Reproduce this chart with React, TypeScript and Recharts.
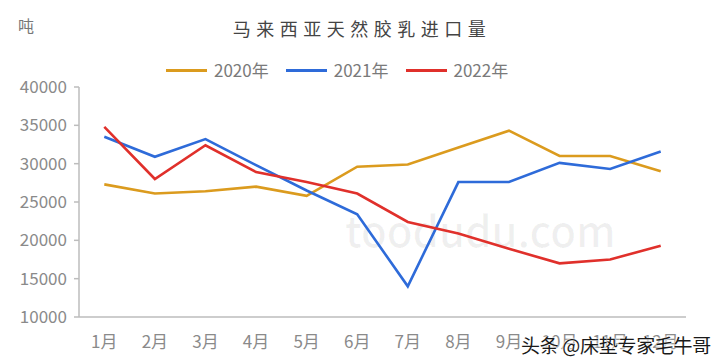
import React from 'react';
import { LineChart, Line, XAxis, YAxis, Legend } from 'recharts';

const months = ['1月', '2月', '3月', '4月', '5月', '6月', '7月', '8月', '9月', '10月', '11月', '12月'];
const s2020 = [27300, 26100, 26400, 27000, 25800, 29600, 29900, 32100, 34300, 31000, 31000, 29000];
const s2021 = [33500, 30900, 33200, 29800, 26500, 23400, 14000, 27600, 27600, 30100, 29300, 31600];
const s2022 = [34800, 28000, 32400, 28900, 27600, 26100, 22400, 20900, 18900, 17000, 17500, 19300];
const yTicks = [10000, 15000, 20000, 25000, 30000, 35000, 40000];
const seriesNames = ['2020年', '2021年', '2022年'];
const colors = ['#DB9B1E', '#2E6BD9', '#E0302B'];

const data = months.map((m, i) => ({ m, x: i + 0.5, a: s2020[i], b: s2021[i], c: s2022[i] }));
const boundaryTicks = months.map((_, i) => i).concat([months.length]);
const centerTicks = months.map((_, i) => i + 0.5);

const FONT = '"Noto Sans CJK SC", "Noto Sans", sans-serif';

const LegendContent = (props: any) => {
  const payload = props.payload || [];
  return (
    <div style={{ display: 'flex', justifyContent: 'flex-start', paddingLeft: 166, fontFamily: FONT }}>
      {payload.map((p: any, i: number) => (
        <div key={i} style={{ display: 'flex', alignItems: 'center', marginRight: 17 }}>
          <div style={{ width: 41, height: 3, background: p.color, marginRight: 7 }} />
          <span style={{ fontSize: 17, color: '#7a7a7a', lineHeight: '20px' }}>{p.value}</span>
        </div>
      ))}
    </div>
  );
};

export default function App() {
  return (
    <div style={{ position: 'absolute', left: 0, top: 0, width: 720, height: 363, background: '#fff', overflow: 'hidden' }}>
      <div style={{ position: 'absolute', left: 18, top: 13, fontSize: 16, color: '#777', fontFamily: FONT }}>吨</div>
      <div style={{ position: 'absolute', left: 0, top: 15, width: 720, textAlign: 'center', fontSize: 18, letterSpacing: 5.5, color: '#444', fontFamily: FONT, lineHeight: '26px', textIndent: 4 }}>
        马来西亚天然胶乳进口量
      </div>
      <div style={{ position: 'absolute', left: 345, top: 198, fontSize: 42, color: 'rgba(0,0,0,0.06)', fontFamily: FONT, fontWeight: 500 }}>toodudu.com</div>
      <LineChart width={720} height={363} data={data} margin={{ top: 87, right: 34, bottom: 16, left: 0 }} style={{ fontFamily: FONT }}>
        <YAxis
          type="number"
          domain={[10000, 40000]}
          ticks={yTicks}
          interval={0}
          width={79}
          axisLine={{ stroke: '#bdbdbd', strokeWidth: 1.5 }}
          tickLine={{ stroke: '#bdbdbd', strokeWidth: 1.5 }}
          tickSize={5}
          tickMargin={7}
          tick={{ fill: '#8a8a8a', fontSize: 17 }}
        />
        <XAxis
          xAxisId="b"
          type="number"
          dataKey="x"
          domain={[0, 12]}
          ticks={boundaryTicks}
          interval={0}
          height={0}
          mirror
          axisLine={false}
          tickLine={{ stroke: '#bdbdbd', strokeWidth: 1.5 }}
          tickSize={5}
          tick={() => <g />}
        />
        <XAxis
          xAxisId="l"
          type="number"
          dataKey="x"
          domain={[0, 12]}
          ticks={centerTicks}
          interval={0}
          height={30}
          axisLine={{ stroke: '#bdbdbd', strokeWidth: 1.5 }}
          tickLine={false}
          tickMargin={13}
          tick={{ fill: '#8a8a8a', fontSize: 17 }}
          tickFormatter={(v: number) => months[Math.floor(v)]}
        />
        <Legend verticalAlign="middle" content={<LegendContent />} wrapperStyle={{ position: 'absolute', top: 60, left: 0, width: 720 }} />
        <Line xAxisId="b" type="linear" dataKey="a" name={seriesNames[0]} stroke={colors[0]} strokeWidth={2.6} dot={false} isAnimationActive={false} />
        <Line xAxisId="b" type="linear" dataKey="b" name={seriesNames[1]} stroke={colors[1]} strokeWidth={2.6} dot={false} isAnimationActive={false} />
        <Line xAxisId="b" type="linear" dataKey="c" name={seriesNames[2]} stroke={colors[2]} strokeWidth={2.6} dot={false} isAnimationActive={false} />
      </LineChart>
      <div style={{ position: 'absolute', left: 521, top: 331, fontSize: 19, color: '#1a1a1a', fontFamily: FONT, letterSpacing: -0.3, textShadow: '0 0 2px #fff, 0 0 2px #fff, 0 0 3px #fff' }}>
        头条 @床垫专家毛牛哥
      </div>
    </div>
  );
}
